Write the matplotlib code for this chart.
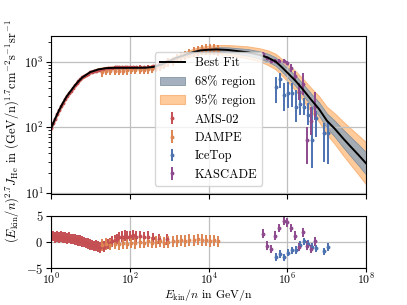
import numpy as np
import matplotlib
matplotlib.use("Agg")
import matplotlib.pyplot as plt
from matplotlib.patches import Patch
from matplotlib.lines import Line2D
from matplotlib.ticker import NullLocator

plt.rcParams['font.family'] = 'serif'
plt.rcParams['font.serif'] = ['cmr10']
plt.rcParams['mathtext.fontset'] = 'cm'
plt.rcParams['axes.formatter.use_mathtext'] = True
plt.rcParams['font.size'] = 9

# best fit curve, log10(E) vs flux * E^2.7
fit_logE = [0.0, 0.1, 0.2, 0.3, 0.4, 0.5, 0.6, 0.7, 0.8, 0.9, 1.0, 1.1, 1.2, 1.3, 1.4, 1.6,
            2.0, 2.4, 2.6, 2.8, 3.0, 3.2, 3.4, 3.6, 3.8, 4.0, 4.2, 4.5, 5.0, 5.3, 5.5, 5.7,
            5.85, 6.0, 6.2, 6.4, 6.6, 6.8, 7.0, 7.2, 7.4, 7.6, 7.8, 8.0]
fit_flux = [95, 132, 178, 232, 295, 355, 427, 501, 575, 631, 692, 724, 759, 776, 794, 803,
            803, 806, 830, 900, 1020, 1150, 1260, 1380, 1480, 1510, 1530, 1500, 1380, 1260, 1150, 1000,
            830, 676, 513, 372, 263, 190, 126, 95, 69, 51, 38, 28]
# half widths of the bands in dex, at the same energies as the fit
band68 = [0.012, 0.012, 0.012, 0.011, 0.011, 0.011, 0.01, 0.01, 0.01, 0.01, 0.01, 0.01, 0.01, 0.01, 0.01, 0.01,
          0.01, 0.011, 0.012, 0.013, 0.014, 0.016, 0.02, 0.024, 0.027, 0.03, 0.034, 0.04, 0.05, 0.055, 0.06, 0.063,
          0.066, 0.07, 0.078, 0.086, 0.094, 0.102, 0.11, 0.122, 0.134, 0.146, 0.158, 0.17]
band95 = [0.025, 0.025, 0.024, 0.024, 0.023, 0.023, 0.022, 0.022, 0.021, 0.021, 0.02, 0.02, 0.02, 0.02, 0.02, 0.02,
          0.02, 0.022, 0.025, 0.028, 0.03, 0.036, 0.045, 0.051, 0.056, 0.06, 0.066, 0.075, 0.09, 0.1, 0.11, 0.118,
          0.124, 0.13, 0.146, 0.162, 0.178, 0.194, 0.21, 0.232, 0.254, 0.276, 0.298, 0.32]

# AMS-02
ams_logE = [0.00, 0.05, 0.10, 0.15, 0.20, 0.25, 0.30, 0.35, 0.40, 0.45, 0.50, 0.55, 0.60, 0.65,
            0.70, 0.75, 0.80, 0.85, 0.90, 0.95, 1.00, 1.05, 1.10, 1.15, 1.20, 1.25, 1.30, 1.35,
            1.40, 1.45, 1.50, 1.56, 1.62, 1.68, 1.74, 1.80, 1.87, 1.94, 2.01, 2.09, 2.17, 2.26,
            2.36, 2.47, 2.60, 2.75, 2.95]
ams_flux = [98, 116, 135, 160, 183, 210, 238, 270, 301, 332, 362, 396, 433, 467,
            505, 541, 577, 603, 628, 655, 682, 696, 707, 726, 739, 745, 757, 764,
            780, 789, 795, 805, 813, 818, 825, 828, 834, 830, 834, 840, 834, 838,
            834, 840, 848, 905, 1005]
ams_err = [3, 3, 4, 4, 5, 5, 6, 7, 7, 8, 8, 9, 10, 10,
           11, 12, 12, 13, 13, 14, 15, 15, 16, 16, 17, 17, 18, 18,
           19, 20, 20, 21, 22, 23, 24, 25, 26, 27, 28, 30, 32, 34,
           37, 40, 44, 50, 60]
ams_res = [1.0, 1.1, 0.9, 1.0, 0.9, 1.0, 0.8, 0.9, 0.7, 0.8, 0.6, 0.6, 0.5, 0.4,
           0.3, 0.3, 0.1, 0.0, -0.2, -0.3, -0.5, -0.6, -0.8, -0.7, -0.9, -1.0, -0.8, -0.9,
           -0.6, -0.4, -0.2, 0.1, 0.4, 0.6, 0.9, 1.0, 1.2, 1.0, 1.1, 1.3, 1.0, 1.1,
           0.9, 1.0, 0.7, 0.6, 0.5]

# DAMPE
dampe_logE = [1.30, 1.41, 1.51, 1.62, 1.72, 1.83, 1.93, 2.04, 2.14, 2.25, 2.35, 2.46, 2.56, 2.67,
              2.77, 2.88, 2.98, 3.09, 3.20, 3.30, 3.41, 3.51, 3.62, 3.72, 3.83, 3.93, 4.04, 4.14, 4.25]
dampe_flux = [700, 720, 720, 730, 730, 730, 735, 740, 740, 745, 750, 760, 775, 800,
              840, 890, 980, 1010, 1130, 1200, 1270, 1340, 1420, 1480, 1530, 1550, 1540, 1530, 1510]
dampe_err = [110, 105, 100, 100, 100, 100, 100, 100, 100, 100, 105, 105, 110, 115,
             120, 130, 145, 150, 170, 185, 200, 215, 230, 245, 260, 270, 280, 290, 300]
dampe_res = [-0.6, -0.4, -0.5, -0.3, -0.4, -0.2, -0.3, -0.1, -0.2, 0.0, -0.1, 0.1, -0.1, 0.0,
             0.1, -0.1, 0.0, 0.1, 0.2, 0.3, 0.2, 0.4, 0.3, 0.5, 0.4, 0.3, 0.2, 0.3, 0.1]

# IceTop
icetop_logE = [5.71, 5.81, 5.92, 6.02, 6.12, 6.22, 6.32, 6.42, 6.53, 6.63, 6.73, 6.93, 7.04]
icetop_flux = [417, 537, 309, 331, 331, 204, 224, 204, 155, 65, 138, 81, 81]
icetop_lo = [233, 390, 174, 196, 206, 122, 155, 155, 109, 24, 72, 30, 28]
icetop_hi = [590, 665, 468, 496, 468, 370, 330, 277, 233, 206, 174, 116, 122]
icetop_res = [-2.85, -2.25, -2.9, -2.0, -1.6, -1.5, -0.6, 0.1, -0.4, -0.9, -1.2, -1.75, -0.95]

# KASCADE
kascade_logE = [5.39, 5.49, 5.59, 5.69, 5.79, 5.90, 6.00, 6.10, 6.20, 6.30, 6.40, 6.50, 6.60, 6.71]
kascade_flux = [1320, 1150, 1030, 1010, 1020, 1010, 960, 800, 600, 350, 450, 65, 125, 210]
kascade_lo = [1250, 1080, 965, 945, 955, 945, 895, 700, 500, 260, 309, 28, 76, 130]
kascade_hi = [1390, 1220, 1095, 1075, 1085, 1075, 1025, 910, 720, 470, 665, 102, 206, 350]
kascade_res = [1.6, -0.7, -1.3, 1.2, 2.7, 4.0, 3.7, 2.7, 1.2, -1.0, 1.8, -0.7, -1.35, 0.1]

c_ams = '#c44e52'
c_dampe = '#dd8452'
c_ice = '#4c72b0'
c_kas = '#8e4a8e'
c_68 = '#9aa8b6'
c_95 = '#ffc690'

fig, (ax, axr) = plt.subplots(2, 1, figsize=(4.07, 3.05), dpi=100, sharex=True,
                              gridspec_kw={'height_ratios': [3, 1], 'hspace': 0.2})
fig.subplots_adjust(left=0.125, right=0.9, top=0.882, bottom=0.12)

E_fit = 10 ** np.array(fit_logE)
f_fit = np.array(fit_flux, dtype=float)
ax.fill_between(E_fit, f_fit / 10 ** np.array(band95), f_fit * 10 ** np.array(band95),
                facecolor=c_95, edgecolor='#f8b47a', lw=0.8, alpha=0.9, zorder=1)
ax.fill_between(E_fit, f_fit / 10 ** np.array(band68), f_fit * 10 ** np.array(band68),
                facecolor=c_68, edgecolor='#7d8c9b', lw=0.6, alpha=0.9, zorder=1.2)

ebkw = dict(fmt='o', ms=1.8, elinewidth=1.4, capsize=0, zorder=2)
ax.errorbar(10 ** np.array(ams_logE), ams_flux, yerr=ams_err, color=c_ams, **ebkw)
ax.errorbar(10 ** np.array(dampe_logE), dampe_flux, yerr=dampe_err, color=c_dampe, **ebkw)
ice_f = np.array(icetop_flux)
ax.errorbar(10 ** np.array(icetop_logE), ice_f,
            yerr=[ice_f - np.array(icetop_lo), np.array(icetop_hi) - ice_f], color=c_ice, **ebkw)
kas_f = np.array(kascade_flux)
ax.errorbar(10 ** np.array(kascade_logE), kas_f,
            yerr=[kas_f - np.array(kascade_lo), np.array(kascade_hi) - kas_f], color=c_kas, **ebkw)
ax.plot(E_fit, fit_flux, color='black', lw=1.4, zorder=3)

ax.set_xscale('log')
ax.set_yscale('log')
ax.set_xlim(1, 1e8)
ax.set_ylim(9.5, 2450)
ax.set_xticks([1e0, 1e2, 1e4, 1e6, 1e8])
ax.xaxis.set_minor_locator(NullLocator())
ax.grid(True, color='0.75', lw=0.9)
ax.tick_params(labelbottom=False)
ax.tick_params(axis='y', pad=2)

handles = [Line2D([0], [0], color='black', lw=1.4),
           Patch(facecolor=c_68, edgecolor='#7d8c9b', lw=0.6, alpha=0.9),
           Patch(facecolor=c_95, edgecolor='#f8b47a', lw=0.8, alpha=0.9),
           ax.containers[0], ax.containers[1], ax.containers[2], ax.containers[3]]
labels = ['Best Fit', '68% region', '95% region', 'AMS-02', 'DAMPE', 'IceTop', 'KASCADE']
ax.legend(handles, labels, loc='lower center', fontsize=9, borderaxespad=0.7)

# residual panel
rkw = dict(fmt='o', ms=1.8, elinewidth=1.4, capsize=0)
axr.errorbar(10 ** np.array(ams_logE), ams_res, yerr=1.0, color=c_ams, **rkw)
axr.errorbar(10 ** np.array(dampe_logE), dampe_res, yerr=1.1, color=c_dampe, **rkw)
axr.errorbar(10 ** np.array(icetop_logE), icetop_res, yerr=0.7, color=c_ice, **rkw)
axr.errorbar(10 ** np.array(kascade_logE), kascade_res, yerr=0.8, color=c_kas, **rkw)
axr.set_ylim(-5, 5)
axr.set_yticks([-5, 0, 5])
axr.set_xlim(1, 1e8)
axr.set_xticks([1e0, 1e2, 1e4, 1e6, 1e8])
axr.xaxis.set_minor_locator(NullLocator())
axr.grid(True, color='0.75', lw=0.9)
axr.tick_params(axis='y', pad=2)
axr.tick_params(axis='x', pad=0, length=2.8, labelsize=8.5)
axr.set_xlabel(r'$E_{\rm kin}/n$ in GeV/n', fontsize=8.5)
axr.xaxis.set_label_coords(0.5, -0.36)

fig.text(0.03, 0.57, r'$(E_{\rm kin}/n)^{2.7}J_{\rm He}$ in $({\rm GeV/n})^{1.7}{\rm cm}^{-2}{\rm s}^{-1}{\rm sr}^{-1}$',
         rotation=90, ha='center', va='center')

fig.savefig('out.png', dpi=100)
